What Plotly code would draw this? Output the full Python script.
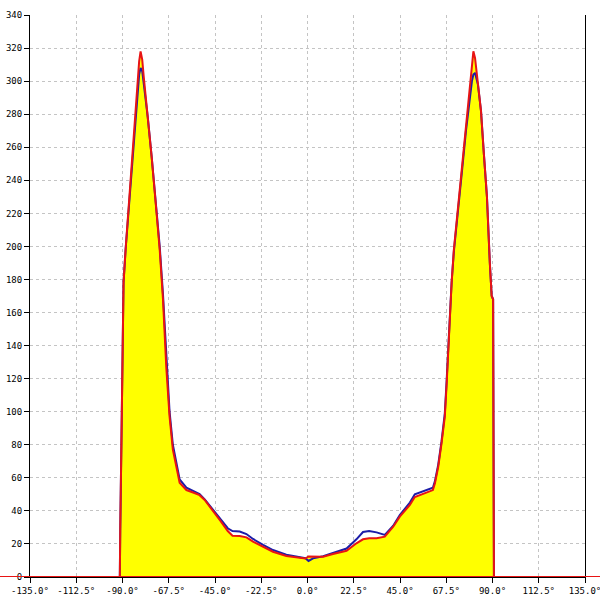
import plotly.graph_objects as go

# angle (degrees) sampled along the curves
angle_deg = [-150, -91.3, -91.1, -90.6, -90.1, -89.5, -88.5, -86.6, -84.1, -82.6,
             -81.9, -81.2, -80.4, -79.7, -77.7, -75.8, -73.4, -71.9, -70.3, -68.7,
             -67.1, -65.5, -62.2, -58.9, -55.0, -52.5, -50.0, -46.1, -42.7, -38.8,
             -36.5, -33.0, -29.7, -26.5, -21.6, -16.8, -10.3, -3.8, -1.0, 0.5,
             2.7, 7.6, 12.4, 19.0, 23.8, 27.0, 30.0, 33.6, 37.6, 41.7,
             44.9, 49.8, 52.2, 57.1, 61.0, 62.0, 63.6, 65.2, 66.8, 67.7,
             68.4, 69.3, 70.1, 71.2, 73.2, 75.1, 77.1, 79.0, 80.0, 80.7,
             81.5, 82.9, 84.4, 85.8, 87.3, 88.7, 89.6, 90.3, 90.5, 90.6,
             90.7, 150]

red_values = [0, 0, 28, 85, 137, 178, 198, 232, 272, 300,
              312, 318, 313, 303, 280, 254, 220, 198, 168, 127,
              97, 77, 57, 52.6, 50.8, 49.5, 46.6, 40.5, 34.5, 27.8,
              25, 24.8, 24, 21.4, 18.3, 15.3, 12.7, 11.9, 11.2, 12.4,
              12.3, 12.3, 13.9, 15.9, 20.4, 22.8, 23.5, 23.4, 24.4, 30.4,
              36.5, 43.6, 48.4, 50.8, 52.6, 56.7, 66.7, 80.9, 97, 117,
              137, 157.5, 177.7, 198, 223, 250, 276, 300, 312, 318,
              314, 300, 282, 256, 230, 190, 170, 168, 127, 42.5,
              0, 0]

blue_values = [0, 0, 28, 85, 137, 178, 198, 230, 268, 294,
               304, 308, 306, 299, 278, 254, 222, 200, 171, 131,
               100, 80, 59, 54, 51.5, 50.2, 47, 41, 35.5, 29.5,
               27.8, 27.5, 26, 23, 19.5, 16.3, 13.5, 12.2, 11.4, 9.7,
               11.3, 12.6, 14.5, 17.2, 22.8, 27.2, 27.8, 27, 25.5, 31,
               37.5, 45, 50, 52, 54, 58, 68, 82, 99, 119,
               139, 159, 178, 197, 220, 245, 270, 292, 300, 304,
               305, 298, 282, 256, 230, 190, 170, 168, 127, 42.5,
               0, 0]

x_tick_vals = [-135, -112.5, -90, -67.5, -45, -22.5, 0, 22.5, 45, 67.5, 90, 112.5, 135]
x_tick_text = ["-135.0°", "-112.5°", "-90.0°", "-67.5°", "-45.0°", "-22.5°", "0.0°",
               "22.5°", "45.0°", "67.5°", "90.0°", "112.5°", "135.0°"]
y_tick_vals = list(range(0, 341, 20))

RED = "#e81414"
BLUE = "#1c1ca8"

fig = go.Figure()
fig.add_trace(go.Scatter(x=angle_deg, y=red_values, mode="lines",
                         line=dict(width=0, color=RED), fill="tozeroy",
                         fillcolor="#ffff00", hoverinfo="skip", showlegend=False))
fig.add_trace(go.Scatter(x=angle_deg, y=blue_values, mode="lines",
                         line=dict(width=2, color=BLUE), showlegend=False))
fig.add_trace(go.Scatter(x=angle_deg, y=red_values, mode="lines",
                         line=dict(width=2, color=RED), showlegend=False))

fig.add_shape(type="line", xref="paper", yref="y", x0=-0.06, x1=1.03, y0=0, y1=0,
              line=dict(color=RED, width=2), layer="above")

font = dict(family="DejaVu Sans Mono", size=9, color="black")
fig.update_layout(
    width=600, height=600,
    margin=dict(l=30, r=15, t=15, b=23, autoexpand=False),
    paper_bgcolor="white", plot_bgcolor="white",
    font=font,
    xaxis=dict(range=[-135, 135], tickvals=x_tick_vals, ticktext=x_tick_text,
               showline=True, linecolor="black", linewidth=1,
               ticks="outside", ticklen=5, tickcolor="black",
               showgrid=True, gridcolor="#c4c4c4", griddash="3px,3px", gridwidth=1,
               zeroline=False, tickfont=font, automargin=False,
               ticklabeloverflow="allow"),
    yaxis=dict(range=[0, 340], tickvals=y_tick_vals,
               showline=True, mirror=True, linecolor="black", linewidth=1,
               ticks="outside", ticklen=5, tickcolor="black",
               showgrid=True, gridcolor="#c4c4c4", griddash="3px,3px", gridwidth=1,
               zeroline=False, tickfont=font, automargin=False,
               ticklabeloverflow="allow"),
)

fig.write_html("out.html",
               config={"displayModeBar": False},
               post_script="document.body.style.margin='0';document.body.style.padding='0';")
